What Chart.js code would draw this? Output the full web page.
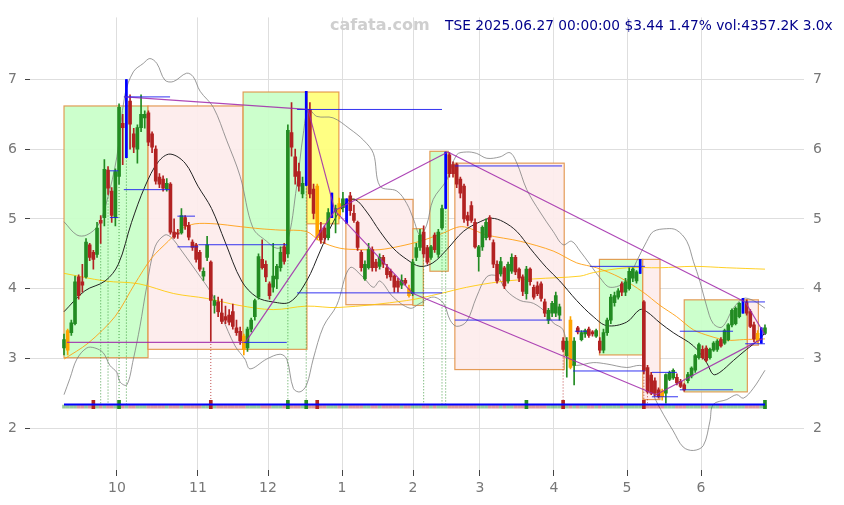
<!DOCTYPE html>
<html>
<head>
<meta charset="utf-8">
<script src="https://cdn.jsdelivr.net/npm/chart.js@4.4.1/dist/chart.umd.min.js"></script>
<style>
  html, body { margin: 0; padding: 0; background: #ffffff; }
  #wrap { width: 844px; height: 505px; }
</style>
</head>
<body>
<div id="wrap"><canvas id="c" width="844" height="505"></canvas></div>
<script>
// ---- daily candles (trading-day index 0..191) ----
const opens = [
  3.15,3.12,3.37,3.50,4.17,4.10,4.17,4.63,4.52,4.49, 4.98,5.02,5.70,5.40,5.02,5.61,6.37,5.88,6.69,6.22,
  6.00,6.31,6.45,6.52,6.22,6.00,5.60,5.57,5.43,5.50, 4.81,4.80,4.80,5.02,4.91,4.67,4.63,4.52,4.18,4.45,
  4.38,3.76,3.81,3.65,3.60,3.62,3.67,3.44,3.39,3.32, 3.15,3.42,3.60,3.88,4.42,4.35,4.07,4.02,4.14,4.30,
  4.60,4.50,6.24,5.89,5.68,5.36,5.50,6.57,5.43,5.47, 4.84,4.87,4.73,5.02,5.10,5.22,5.16,4.94,5.33,5.08,
  4.95,4.52,4.14,4.30,4.56,4.38,4.32,4.45,4.30,4.25, 4.18,4.11,4.05,4.12,4.00,3.93,4.45,4.59,4.81,4.59,
  4.45,4.77,4.49,4.87,5.15,5.92,5.78,5.78,5.57,5.47, 5.05,5.19,4.95,4.46,4.60,4.73,5.02,4.66,4.35,4.21,
  4.30,4.11,4.25,4.45,4.28,4.17,3.93,4.28,4.02,4.04, 4.07,3.81,3.55,3.65,3.65,3.62,3.25,3.04,3.55,2.90,
  3.44,3.27,3.35,3.42,3.38,3.32,3.25,3.12,3.37,3.55, 3.80,3.88,4.07,3.95,4.00,4.15,4.11,4.24,3.81,2.87,
  2.76,2.68,2.55,2.53,2.50,2.70,2.72,2.73,2.67,2.62, 2.68,2.75,2.83,3.01,3.13,3.15,3.01,3.12,3.13,3.27,
  3.22,3.27,3.48,3.50,3.60,3.67,3.80,3.67,3.48,3.36, 3.25,3.36
];
const highs = [
  3.35,3.42,3.55,4.18,4.20,4.35,4.72,4.65,4.55,4.95, 5.05,5.85,5.75,5.45,5.72,6.65,6.50,7.00,6.78,6.30,
  6.35,6.78,6.55,6.55,6.25,6.05,5.65,5.62,5.58,5.52, 5.00,4.85,5.15,5.05,4.95,4.70,4.65,4.55,4.30,4.75,
  4.40,3.90,3.88,3.85,3.75,3.70,3.78,3.55,3.45,3.35, 3.45,3.58,3.85,4.50,4.70,4.40,4.10,4.65,4.35,4.60,
  4.65,6.35,6.67,6.00,5.80,5.60,6.83,6.67,5.50,5.50, 4.95,4.90,5.15,5.37,5.20,5.30,5.38,5.29,5.38,5.20,
  4.97,4.55,4.40,4.65,4.60,4.42,4.50,4.48,4.35,4.28, 4.20,4.15,4.20,4.15,4.05,4.42,4.65,4.85,4.90,4.62,
  4.62,4.80,4.85,5.20,5.96,5.95,5.82,5.80,5.60,5.50, 5.10,5.25,5.00,4.62,4.90,5.00,5.05,4.70,4.40,4.45,
  4.32,4.38,4.50,4.48,4.30,4.20,4.32,4.30,4.05,4.10, 4.10,3.85,3.72,3.82,3.95,3.78,3.30,3.30,3.60,3.30,
  3.46,3.40,3.42,3.45,3.40,3.42,3.30,3.42,3.58,3.92, 3.95,4.00,4.10,4.15,4.30,4.30,4.26,4.42,3.83,2.90,
  2.80,2.72,2.58,2.56,2.78,2.82,2.85,2.78,2.70,2.64, 2.80,2.88,3.06,3.22,3.18,3.18,3.15,3.24,3.27,3.30,
  3.42,3.50,3.71,3.74,3.80,3.86,3.84,3.70,3.52,3.40, 3.44,3.48
];
const lows = [
  3.05,3.05,3.33,3.48,3.85,3.95,4.15,4.40,4.28,4.45, 4.65,4.90,5.35,4.95,4.90,5.50,5.78,5.88,6.00,5.95,
  5.80,6.25,6.30,6.05,5.95,5.50,5.45,5.40,5.40,4.78, 4.72,4.72,4.78,4.85,4.70,4.55,4.38,4.25,4.12,4.40,
  3.25,3.65,3.60,3.50,3.50,3.48,3.42,3.33,3.20,3.05, 3.10,3.38,3.55,3.85,4.28,4.10,3.85,3.95,4.00,4.25,
  4.35,4.45,5.90,5.50,5.40,5.30,5.48,5.30,5.00,4.70, 4.65,4.65,4.70,5.02,4.80,5.00,5.10,4.94,5.05,4.95,
  4.55,4.25,4.12,4.28,4.25,4.25,4.28,4.30,4.15,4.12, 3.95,3.95,4.00,4.05,3.88,3.90,4.40,4.55,4.45,4.35,
  4.42,4.52,4.45,4.85,5.15,5.60,5.60,5.45,5.30,4.95, 4.90,4.95,4.58,4.25,4.55,4.70,4.70,4.30,4.08,4.18,
  4.00,4.08,4.22,4.20,4.10,3.90,3.85,4.05,3.85,3.90, 3.82,3.60,3.50,3.60,3.60,3.55,3.10,2.73,2.85,2.62,
  3.35,3.25,3.30,3.30,3.32,3.30,3.08,3.08,3.33,3.50, 3.75,3.85,3.90,3.90,3.98,4.10,4.08,4.22,2.78,2.50,
  2.48,2.46,2.43,2.40,2.36,2.68,2.70,2.62,2.58,2.53, 2.65,2.72,2.80,2.99,2.99,2.95,2.99,3.10,3.10,3.16,
  3.20,3.25,3.45,3.48,3.58,3.65,3.62,3.44,3.24,3.22, 3.22,3.34
];
const closes = [
  3.27,3.40,3.51,4.10,3.90,4.05,4.67,4.45,4.42,4.87, 4.94,5.71,5.44,5.05,5.68,6.60,6.31,6.99,6.36,6.03,
  6.31,6.50,6.50,6.10,6.03,5.54,5.50,5.44,5.51,4.81, 4.74,4.78,5.05,4.90,4.74,4.59,4.42,4.28,4.25,4.63,
  3.83,3.83,3.67,3.53,3.55,3.52,3.46,3.37,3.25,3.13, 3.42,3.55,3.83,4.46,4.30,4.17,3.90,4.18,4.32,4.52,
  4.39,6.27,6.03,5.61,5.47,5.51,6.81,5.36,5.08,4.73, 4.70,4.73,5.09,5.37,5.15,5.05,5.29,5.29,5.12,4.98,
  4.59,4.30,4.35,4.56,4.30,4.30,4.45,4.35,4.20,4.17, 4.02,4.02,4.12,4.08,3.90,4.38,4.59,4.77,4.50,4.38,
  4.60,4.56,4.81,5.15,5.96,5.65,5.65,5.50,5.37,5.00, 4.98,4.98,4.60,4.60,4.88,4.95,4.74,4.35,4.11,4.39,
  4.04,4.35,4.45,4.24,4.15,3.96,4.28,4.10,3.88,3.93, 3.86,3.65,3.69,3.79,3.90,3.74,3.13,3.25,2.87,3.25,
  3.38,3.37,3.40,3.33,3.35,3.40,3.12,3.37,3.55,3.88, 3.90,3.97,3.95,4.10,4.25,4.28,4.24,4.42,2.82,2.52,
  2.50,2.50,2.45,2.45,2.77,2.80,2.83,2.65,2.60,2.55, 2.77,2.86,3.04,3.20,3.01,2.97,3.13,3.22,3.25,3.18,
  3.40,3.48,3.69,3.72,3.79,3.86,3.65,3.46,3.28,3.25, 3.39,3.44
];
// flagged sessions
const orangeBars = [1, 49, 69, 75, 94, 138, 163, 189];
const blueBars   = [17, 66, 73, 77, 104, 157, 185, 190];
const heavyVolume = [8, 15, 40, 61, 66, 69, 126, 136, 158, 191];
const greenDrops = [10, 12, 15, 17, 61, 66, 98, 103, 104];
const redDrops   = [40, 136, 158, 159];

// month axis: position (trading-day index) and label
const monthPos    = [14.44, 36.51, 55.59, 75.75, 95.10, 113.35, 133.51, 153.41, 173.57];
const monthLabels = ['10', '11', '12', '1', '2', '3', '4', '5', '6'];
const priceTicks  = [2, 3, 4, 5, 6, 7];

// indicator curves: [index, value]
const ma20 = [[0,3.67],[5.7,3.97],[11.2,4.11],[14.8,4.35],[18.4,4.95],[22.1,5.47],[25.7,5.82],[28.9,5.93],
  [33,5.80],[36.5,5.47],[40.2,5.15],[43.9,4.67],[48.4,4.11],[52.5,3.88],[56.9,3.81],[61.6,3.81],[66.1,4.11],
  [69.8,4.54],[73.4,4.96],[77,5.24],[79.3,5.28],[82.5,5.10],[86.1,4.82],[89.7,4.58],[93.4,4.42],[97,4.32],
  [100.5,4.37],[104.3,4.56],[108.8,4.82],[113.4,4.96],[116.5,5.01],[119.7,4.96],[123.4,4.82],[127,4.58],
  [131.5,4.30],[135.1,4.11],[139.7,3.83],[144.2,3.60],[147.9,3.47],[153.3,3.52],[156.9,3.70],[158.8,3.67],
  [162.4,3.51],[166,3.37],[171.5,3.18],[175.1,2.94],[176.9,2.77],[178.7,2.80],[182.4,2.97],[186,3.13],
  [189.6,3.28],[191,3.37]];
const ma50 = [[0,2.99],[6.6,3.22],[13.9,3.60],[19.3,4.07],[23.9,4.44],[28.4,4.68],[32.1,4.86],[35.7,4.93],
  [41.1,4.93],[48,4.89],[53.4,4.86],[58.9,4.84],[66.1,4.82],[69.8,4.68],[75.2,4.58],[80.7,4.56],[86.1,4.56],
  [91.6,4.61],[97,4.68],[102.5,4.78],[108.4,4.89],[115.2,4.77],[124.3,4.68],[133.3,4.54],[139.7,4.37],
  [145.1,4.30],[151.5,4.16],[157.8,3.95],[162.4,3.76],[166.9,3.60],[171.5,3.41],[176,3.32],[180.6,3.26],
  [185.1,3.27],[191,3.28]];
const ma200 = [[0,4.22],[11.2,4.11],[20.4,4.07],[29.9,3.93],[38.9,3.86],[47.7,3.76],[57,3.70],[66,3.75],
  [74.7,3.73],[93.4,3.83],[102.5,3.93],[109.7,4.02],[118.8,4.10],[127.9,4.14],[140.6,4.18],[144.2,4.23],
  [153.3,4.30],[162.4,4.30],[171.5,4.32],[180.6,4.30],[191,4.28]];
const bandUpper = [[0,4.96],[3.5,4.77],[6.2,4.77],[9.3,4.91],[11.6,5.24],[14.4,5.89],[16.6,6.78],[18.9,7.11],
  [21.6,7.23],[23.4,7.30],[25.3,7.23],[27.5,6.99],[29.8,6.97],[33.4,7.09],[35.2,7.04],[37.1,6.83],[40.7,6.60],
  [44.3,6.13],[48,5.61],[51.5,4.87],[55.2,4.68],[58,4.58],[60.7,4.65],[63.4,5.47],[65.2,6.22],[66.6,6.57],
  [68.9,6.47],[73.3,6.45],[77.9,6.29],[81.6,6.13],[84.3,5.94],[86.1,5.47],[90.7,5.40],[93.4,5.22],[95.2,5.00],
  [97,4.77],[98.8,4.91],[100.6,5.28],[104.3,5.56],[107,5.92],[109.7,5.96],[112.4,5.94],[115.2,5.87],
  [118.8,5.89],[121.5,5.95],[123.4,5.80],[126.1,5.42],[129.7,5.10],[133.3,4.82],[136,4.63],[138.3,4.68],
  [140.6,4.54],[143.3,4.35],[146,4.16],[148.8,4.02],[153.3,4.11],[156,4.39],[158.8,4.68],[160.6,4.82],
  [164.2,4.86],[166.9,4.84],[169.7,4.68],[171.5,4.39],[173.3,4.10],[175.1,3.75],[176.9,3.50],[179.3,3.45],
  [182.4,3.72],[185.1,3.86],[187.8,3.83],[191,3.72]];
const bandLower = [[0,2.48],[1.6,2.71],[3.5,2.99],[6.2,3.15],[8.4,3.15],[10.7,3.08],[12.5,2.90],[14.4,2.80],
  [15.3,2.66],[17.1,2.62],[18.9,2.99],[20.7,3.46],[22.5,4.02],[24.8,4.60],[27.5,4.77],[29.3,4.73],[32.1,4.54],
  [36.6,4.21],[40.2,3.93],[43,3.60],[46.6,3.18],[49.3,2.99],[50.7,2.85],[55.2,2.99],[58.9,3.06],[60.7,2.99],
  [62.5,2.57],[64.3,2.52],[66.1,2.62],[67.9,2.99],[70.7,3.46],[74.3,3.76],[77.9,4.30],[81.6,4.16],[84.3,4.02],
  [86.1,4.11],[89.7,3.88],[94.3,3.72],[97,3.79],[100.6,3.88],[103.4,3.79],[105.2,3.55],[107,3.46],[109.7,3.53],
  [112.4,3.88],[115.2,4.17],[117.9,4.18],[120.6,3.97],[124.3,3.83],[127.9,3.79],[131.5,3.65],[133.3,3.51],
  [136,3.41],[137.9,2.94],[139.7,2.90],[144.2,2.94],[147.9,2.92],[153.3,2.87],[156.9,2.90],[158.6,2.85],
  [160.6,2.48],[163.3,2.20],[166,1.96],[168.7,1.73],[171.5,1.68],[174.2,1.75],[176,2.10],[176.9,2.34],
  [180.6,2.41],[183.3,2.48],[185.1,2.43],[187.8,2.57],[191,2.83]];

// swing zones: start index, end index, low, high, kind (g = up, r = down, y = pending)
const zoneStart = [0, 22.9, 48.8, 66.2, 76.8, 95.1, 99.7, 106.5, 145.9, 157.7, 169.0, 186.2];
const zoneEnd   = [22.9, 48.8, 66.2, 74.9, 95.1, 97.9, 104.7, 136.3, 157.7, 162.4, 186.2, 189.2];
const zoneLow   = [3.01, 3.13, 3.13, 4.93, 3.77, 3.76, 4.25, 2.84, 3.05, 2.41, 2.52, 3.19];
const zoneHigh  = [6.62, 6.62, 6.82, 6.82, 5.28, 4.86, 5.97, 5.80, 4.42, 4.42, 3.84, 3.84];
const zoneKind  = ['g','r','g','y','r','g','g','r','g','r','g','r'];

// swing trend lines: [index0, value0, index1, value1]
const swingLines = [
  [16.6,6.75, 66.2,6.57], [0.8,3.23, 48.8,3.23], [49.3,3.22, 73.8,5.12], [66.5,6.57, 73.8,5.12],
  [73.8,5.12, 104.6,5.96], [73.8,5.12, 95.1,3.93], [95.1,3.93, 161.3,2.48], [104.6,5.96, 185.6,3.81],
  [185.6,3.81, 191,3.34], [161.3,2.48, 190.2,3.28]
];
// support / resistance levels: [index0, index1, value]
const levels = [
  [16.3,28.9,6.75], [12.5,14.8,5.69], [12.5,14.8,5.02], [16.3,28.9,5.42], [30.9,35.7,5.04],
  [30.9,36.6,4.60], [36.6,60.8,4.63], [48.9,60.7,3.23], [63.5,103,3.94], [63.5,103,6.57],
  [106.5,135.7,5.76], [106.5,135.7,3.55], [139.2,142.5,3.39], [138.7,158.3,2.82], [143.3,158.3,4.32],
  [160.2,167,2.80], [160.2,167.3,2.45], [167.8,182.3,3.39], [167.8,182.3,2.55], [185.6,191,3.81],
  [185.6,191,3.21]
];

const captionSite = 'cafata.com';
const captionQuote = 'TSE 2025.06.27 00:00:00 $3.44 1.47% vol:4357.2K 3.0x';

// ---- build datasets ----
const RED = '#b22222', GREEN = '#228b22', ORANGE = '#ffa500', BLUE = '#0000ff';
const idx = opens.map((_, i) => i);
const up = i => closes[i] >= opens[i];
const colorOf = i => blueBars.includes(i) ? BLUE : orangeBars.includes(i) ? ORANGE : (up(i) ? GREEN : RED);

const wickData = idx.map(i => ({ x: i, y: [lows[i], highs[i]] }));
const bodyIdx = idx.filter(i => !blueBars.includes(i));
const bodyData = bodyIdx.map(i => {
  let lo = Math.min(opens[i], closes[i]), hi = Math.max(opens[i], closes[i]);
  if (hi - lo < 0.02) { const m = (hi + lo) / 2; lo = m - 0.01; hi = m + 0.01; }
  return { x: i, y: [lo, hi] };
});
const blueData = blueBars.map(i => ({ x: i, y: [lows[i], highs[i]] }));

const STRIP = 2.34;
const stripData = idx.map(i => ({ x: i, y: [2.285, 2.33] }));
const stripColors = idx.map(i => up(i) ? 'rgba(34,139,34,0.45)' : 'rgba(178,34,34,0.45)');
const heavyData = heavyVolume.map(i => ({ x: i, y: [2.28, 2.40] }));

const pts = arr => arr.map(p => ({ x: p[0], y: p[1] }));
function segData(list) {
  const out = [];
  list.forEach(s => { out.push({ x: s[0], y: s[1] }, { x: s[2], y: s[3] }, { x: s[2], y: null }); });
  return out;
}
const levelData = [];
levels.forEach(l => { levelData.push({ x: l[0], y: l[2] }, { x: l[1], y: l[2] }, { x: l[1], y: null }); });
function dropData(list) {
  const out = [];
  list.forEach(i => { out.push({ x: i, y: lows[i] }, { x: i, y: STRIP }, { x: i, y: null }); });
  return out;
}

const lineBase = { type: 'line', pointRadius: 0, borderWidth: 1, fill: false, spanGaps: false };

const datasets = [
  Object.assign({}, lineBase, { data: pts(bandUpper), borderColor: 'rgba(120,120,120,0.75)', tension: 0.35, order: 20 }),
  Object.assign({}, lineBase, { data: pts(bandLower), borderColor: 'rgba(120,120,120,0.75)', tension: 0.35, order: 20 }),
  Object.assign({}, lineBase, { data: pts(ma200), borderColor: 'rgba(255,200,0,0.85)', tension: 0.35, order: 19 }),
  Object.assign({}, lineBase, { data: pts(ma50), borderColor: 'rgba(255,160,20,0.9)', tension: 0.3, order: 18 }),
  Object.assign({}, lineBase, { data: pts(ma20), borderColor: '#222222', tension: 0.35, order: 17 }),
  Object.assign({}, lineBase, { data: dropData(greenDrops), borderColor: 'rgba(34,139,34,0.8)', borderDash: [1, 2], order: 16 }),
  Object.assign({}, lineBase, { data: dropData(redDrops), borderColor: 'rgba(178,34,34,0.8)', borderDash: [1, 2], order: 16 }),
  { type: 'bar', data: stripData, backgroundColor: stripColors, barThickness: 3, grouped: false, order: 15 },
  { type: 'bar', data: heavyData, backgroundColor: heavyVolume.map(i => up(i) ? GREEN : RED), barThickness: 3, grouped: false, order: 14 },
  { type: 'bar', data: wickData, backgroundColor: idx.map(colorOf), barThickness: 1, grouped: false, order: 10 },
  { type: 'bar', data: bodyData, backgroundColor: bodyIdx.map(colorOf), barThickness: 3, grouped: false, minBarLength: 1, order: 9 },
  { type: 'bar', data: blueData, backgroundColor: BLUE, barThickness: 2, grouped: false, order: 8 },
  Object.assign({}, lineBase, { data: segData(swingLines), borderColor: 'rgba(160,40,170,0.85)', borderWidth: 1.2, order: 5 }),
  Object.assign({}, lineBase, { data: levelData, borderColor: 'rgba(30,30,240,0.9)', order: 4 }),
  Object.assign({}, lineBase, { data: [{ x: 0, y: STRIP }, { x: opens.length - 1, y: STRIP }], borderColor: BLUE, borderWidth: 2, order: 3 })
];

// ---- plugins ----
const zoneFill = { g: 'rgba(200,255,200,0.92)', r: 'rgba(253,236,236,0.92)', y: 'rgba(255,255,120,0.92)' };
const zonePlugin = {
  id: 'zones',
  beforeDatasetsDraw(chart) {
    const { ctx, chartArea, scales: { x, y } } = chart;
    ctx.save();
    ctx.beginPath();
    ctx.rect(chartArea.left, chartArea.top, chartArea.width, chartArea.height);
    ctx.clip();
    zoneStart.forEach((s, k) => {
      const x0 = x.getPixelForValue(s), x1 = x.getPixelForValue(zoneEnd[k]);
      const y0 = y.getPixelForValue(zoneHigh[k]), y1 = y.getPixelForValue(zoneLow[k]);
      ctx.fillStyle = zoneFill[zoneKind[k]];
      ctx.fillRect(x0, y0, x1 - x0, y1 - y0);
      ctx.strokeStyle = 'rgba(225,140,60,0.85)';
      ctx.lineWidth = 1.2;
      ctx.strokeRect(x0, y0, x1 - x0, y1 - y0);
    });
    ctx.restore();
  }
};
const captionPlugin = {
  id: 'caption',
  afterDraw(chart) {
    const ctx = chart.ctx;
    ctx.save();
    ctx.textBaseline = 'middle';
    ctx.font = "bold 16px 'DejaVu Sans'";
    ctx.fillStyle = '#cfcfcf';
    ctx.fillText(captionSite, 330, 26);
    ctx.font = "14px 'DejaVu Sans'";
    const w = ctx.measureText(captionQuote).width;
    const size = 14 * 388 / w;
    ctx.font = size.toFixed(2) + "px 'DejaVu Sans'";
    ctx.fillStyle = '#00008b';
    ctx.fillText(captionQuote, 445, 26);
    ctx.restore();
  }
};

// ---- chart ----
const X0 = 64, STEP = 3.67;           // pixel of first candle, pixels per session
const tickFont = { family: "'DejaVu Sans'", size: 14 };
new Chart(document.getElementById('c'), {
  type: 'line',
  data: { datasets },
  options: {
    responsive: false,
    animation: false,
    devicePixelRatio: 1,
    layout: { padding: { top: 8, left: 0, right: 0, bottom: 0 } },
    plugins: { legend: { display: false }, tooltip: { enabled: false } },
    scales: {
      x: {
        type: 'linear',
        offset: false,
        min: (30 - X0) / STEP,
        max: (804 - X0) / STEP,
        afterBuildTicks: s => { s.ticks = monthPos.map(v => ({ value: v })); },
        afterFit: s => { s.height = 35; },
        ticks: { autoSkip: false, maxRotation: 0, padding: 4, color: '#777', font: tickFont,
                 callback: (v, i) => monthLabels[i] },
        grid: { offset: false, color: '#dedede', tickColor: '#444', tickLength: 6 },
        border: { display: false }
      },
      y: {
        type: 'linear', position: 'left', min: 1.4, max: 7.89, beginAtZero: false,
        afterBuildTicks: s => { s.ticks = priceTicks.map(v => ({ value: v })); },
        afterFit: s => { s.width = 30; },
        ticks: { padding: 8, color: '#777', font: tickFont, callback: v => String(v) },
        grid: { color: '#dedede', tickColor: '#444', tickLength: 5 },
        border: { display: false }
      },
      y2: {
        type: 'linear', position: 'right', min: 1.4, max: 7.89, beginAtZero: false,
        afterBuildTicks: s => { s.ticks = priceTicks.map(v => ({ value: v })); },
        afterFit: s => { s.width = 40; },
        ticks: { padding: 9, color: '#777', font: tickFont, callback: v => String(v) },
        grid: { display: false, drawTicks: false },
        border: { display: false }
      }
    }
  },
  plugins: [zonePlugin, captionPlugin]
});
</script>
</body>
</html>
